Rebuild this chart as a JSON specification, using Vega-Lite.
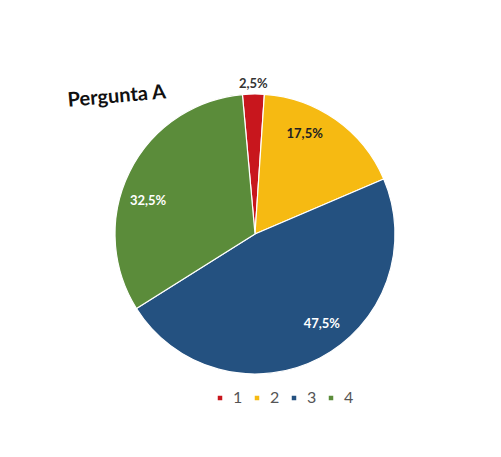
{
  "$schema": "https://vega.github.io/schema/vega-lite/v6.json",
  "width": 490,
  "height": 450,
  "autosize": {"type": "none"},
  "padding": {"left": 10, "top": 9, "right": 1, "bottom": 0},
  "background": "white",
  "title": {
    "text": "Pergunta A",
    "anchor": "start",
    "frame": "group",
    "font": "Lato",
    "fontSize": 20,
    "fontWeight": "bold",
    "color": "#111111",
    "offset": 0,
    "dx": 47,
    "dy": 115,
    "angle": -5
  },
  "data": {
    "values": [
      {"cat": "1", "value": 2.5, "label": "2,5%"},
      {"cat": "2", "value": 17.5, "label": "17,5%"},
      {"cat": "3", "value": 47.5, "label": "47,5%"},
      {"cat": "4", "value": 32.5, "label": "32,5%"}
    ]
  },
  "encoding": {
    "theta": {"field": "value", "type": "quantitative", "stack": true, "scale": {"range": [-0.09, 6.1932]}},
    "order": {"field": "cat", "type": "ordinal"}
  },
  "layer": [
    {
      "mark": {"type": "arc", "outerRadius": 140, "stroke": "white", "strokeWidth": 1.2},
      "encoding": {
        "color": {
          "field": "cat",
          "type": "nominal",
          "scale": {"domain": ["1", "2", "3", "4"], "range": ["#C8161D", "#F6BA12", "#245180", "#5B8C3A"]},
          "legend": {
            "title": null,
            "orient": "none",
            "direction": "horizontal",
            "legendX": 202,
            "legendY": 381,
            "symbolType": "square",
            "symbolSize": 36,
            "labelFont": "Lato",
            "labelFontSize": 16,
            "labelColor": "#555555",
            "columnPadding": 6,
            "labelOffset": 5
          }
        }
      }
    },
    {
      "transform": [{"filter": "datum.cat != '1'"}],
      "mark": {"type": "text", "radius": 112, "font": "Lato", "fontSize": 13, "fontWeight": "bold"},
      "encoding": {
        "text": {"field": "label"},
        "color": {"condition": {"test": "datum.cat == '2'", "value": "#222222"}, "value": "white"}
      }
    },
    {
      "transform": [{"filter": "datum.cat == '1'"}],
      "mark": {"type": "text", "radius": 150, "font": "Lato", "fontSize": 13, "fontWeight": "bold", "color": "#333333"},
      "encoding": {
        "text": {"field": "label"}
      }
    }
  ]
}
